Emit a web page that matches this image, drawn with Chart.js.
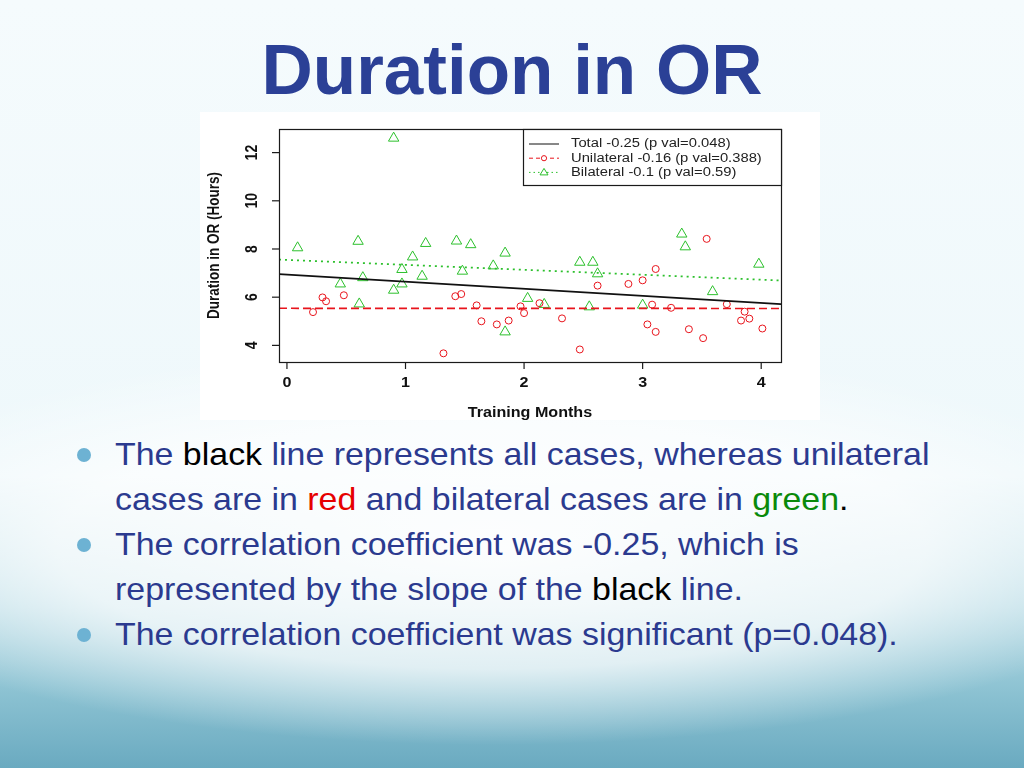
<!DOCTYPE html>
<html lang="en">
<head>
<meta charset="utf-8">
<title>Duration in OR</title>
<script src="https://cdn.jsdelivr.net/npm/chart.js@4.4.1/dist/chart.umd.min.js"></script>
<style>
    html, body {
        margin: 0;
        padding: 0;
    }
    body {
        width: 1024px;
        height: 768px;
        position: relative;
        overflow: hidden;
        font-family: "Liberation Sans", Arial, sans-serif;
        background:
            radial-gradient(ellipse 700px 200px at 48% 545px, rgba(255, 255, 255, 0.95) 0%, rgba(255, 255, 255, 0.7) 62%, rgba(255, 255, 255, 0) 100%),
            linear-gradient(to bottom, #f5fbfd 0%, #eef8fb 62%, #b9dce6 79%, #8cc2d2 90%, #6aaac0 100%);
    }
    h1 {
        position: absolute;
        top: 34px;
        left: 0;
        width: 1024px;
        margin: 0;
        text-align: center;
        font-size: 71px;
        line-height: 71px;
        font-weight: bold;
        color: #2b4096;
    }
    #caja-grafico {
        position: absolute;
        left: 200px;
        top: 112px;
        width: 620px;
        height: 308px;
        background: #ffffff;
    }
    .item {
        position: absolute;
        left: 0;
        width: 1024px;
        height: 90px;
    }
    .punto {
        position: absolute;
        left: 77px;
        top: 16px;
        width: 14px;
        height: 14px;
        border-radius: 50%;
        background: #6db2d3;
    }
    .item p {
        position: absolute;
        left: 115px;
        top: 0;
        margin: 0;
        white-space: nowrap;
        font-size: 32px;
        line-height: 45px;
        color: #2b3a8f;
        transform: scaleX(1.06);
        transform-origin: left top;
    }
    .negro { color: #000000; }
    .rojo { color: #e60000; }
    .verde { color: #0a8a0a; }
</style>
</head>
<body>
<h1>Duration in OR</h1>

<div id="caja-grafico">
    <canvas id="grafico" width="620" height="308"></canvas>
</div>

<div class="item" style="top:432px">
    <span class="punto"></span>
    <p>The <span class="negro">black</span> line represents all cases, whereas unilateral<br>cases are in <span class="rojo">red</span> and bilateral cases are in <span class="verde">green</span><span class="negro">.</span></p>
</div>
<div class="item" style="top:522px">
    <span class="punto"></span>
    <p>The correlation coefficient was -0.25, which is<br>represented by the slope of the <span class="negro">black</span> line.</p>
</div>
<div class="item" style="top:612px">
    <span class="punto"></span>
    <p>The correlation coefficient was significant (p=0.048).</p>
</div>

<script>
// Casos unilaterales (circulos rojos): mes de entrenamiento y horas en quirofano
const mesesUnilateral = [0.22, 0.30, 0.33, 0.48, 1.32, 1.42, 1.47, 1.60, 1.64, 1.77, 1.87, 1.97,
    2.00, 2.13, 2.32, 2.47, 2.62, 2.88, 3.00, 3.11, 3.08, 3.04, 3.11, 3.24, 3.39, 3.51, 3.54, 3.71,
    3.83, 3.86, 3.90, 4.01];
const horasUnilateral = [5.38, 5.99, 5.83, 6.08, 3.67, 6.04, 6.13, 5.66, 5.00, 4.87, 5.03, 5.62,
    5.34, 5.75, 5.12, 3.83, 6.48, 6.55, 6.70, 7.17, 5.69, 4.87, 4.56, 5.56, 4.67, 4.30, 8.42, 5.71,
    5.03, 5.40, 5.11, 4.70];

// Casos bilaterales (triangulos verdes)
const mesesBilateral = [0.09, 0.90, 0.60, 0.64, 0.45, 0.61, 0.90, 0.97, 0.97, 1.06, 1.14, 1.17,
    1.43, 1.55, 1.48, 1.74, 1.84, 1.84, 2.03, 2.17, 2.47, 2.58, 2.62, 2.55, 3.00, 3.33, 3.36, 3.59,
    3.98];
const horasBilateral = [8.05, 12.60, 8.32, 6.81, 6.55, 5.72, 6.29, 6.55, 7.15, 7.67, 6.87, 8.23,
    8.33, 8.18, 7.08, 7.30, 7.83, 4.56, 5.95, 5.70, 7.45, 7.45, 6.97, 5.60, 5.67, 8.62, 8.09, 6.23,
    7.37];

const mesesRecta = [-0.067, 4.167];
const rectaTotal = [6.96, 5.71];
const rectaUnilateral = [5.54, 5.53];
const rectaBilateral = [7.56, 6.69];

// Etiquetas de los ejes
const ticksMeses = [0, 1, 2, 3, 4];
const ticksHoras = [4, 6, 8, 10, 12];

const etiquetas = {
    total: "Total -0.25 (p val=0.048)",
    unilateral: "Unilateral -0.16 (p val=0.388)",
    bilateral: "Bilateral -0.1 (p val=0.59)",
};

const rojo = "#e8141c";
const verde = "#2cc02c";

// Une dos arreglos en puntos {x, y}
function armarPuntos(xs, ys) {
    return xs.map((x, i) => ({ x: x, y: ys[i] }));
}

// Escribe texto con un estiramiento horizontal como en la imagen original
function escribir(ctx, texto, px, py, estirar, vertical) {
    ctx.save();
    ctx.translate(px, py);
    if (vertical) {
        ctx.rotate(-Math.PI / 2);
        ctx.scale(1, estirar);
    } else {
        ctx.scale(estirar, 1);
    }
    ctx.fillText(texto, 0, 0);
    ctx.restore();
}

function linea(ctx, x1, y1, x2, y2) {
    ctx.beginPath();
    ctx.moveTo(x1, y1);
    ctx.lineTo(x2, y2);
    ctx.stroke();
}

// Plugin para dibujar caja, ejes y leyenda al estilo de R
const ejesR = {
    id: "ejesR",
    afterDraw(chart) {
        const ctx = chart.ctx;
        const a = chart.chartArea;
        const x = chart.scales.x;
        const y = chart.scales.y;

        ctx.save();
        ctx.strokeStyle = "#1a1a1a";
        ctx.lineWidth = 1.2;
        ctx.setLineDash([]);
        ctx.strokeRect(a.left + 0.5, a.top + 0.5, a.right - a.left, a.bottom - a.top);

        ctx.fillStyle = "#111111";
        ctx.textAlign = "center";
        ctx.textBaseline = "middle";

        // Eje X
        ctx.font = "bold 14px 'Liberation Sans', Arial, sans-serif";
        for (let v of ticksMeses) {
            const px = x.getPixelForValue(v);
            linea(ctx, px, a.bottom, px, a.bottom + 7);
            escribir(ctx, String(v), px, a.bottom + 21, 1.15, false);
        }

        // Eje Y (etiquetas giradas)
        for (let v of ticksHoras) {
            const py = y.getPixelForValue(v);
            linea(ctx, a.left, py, a.left - 7, py);
            escribir(ctx, String(v), a.left - 27, py, 1.2, true);
        }

        // Titulos de los ejes
        ctx.font = "bold 14px 'Liberation Sans', Arial, sans-serif";
        escribir(ctx, "Training Months", (a.left + a.right) / 2, a.bottom + 51, 1.15, false);
        ctx.font = "bold 13.5px 'Liberation Sans', Arial, sans-serif";
        escribir(ctx, "Duration in OR (Hours)", 15, (a.top + a.bottom) / 2, 1.2, true);

        // Leyenda
        const ancho = 258;
        const alto = 56;
        const izq = a.right - ancho;
        const arriba = a.top;
        ctx.fillStyle = "#ffffff";
        ctx.fillRect(izq, arriba, ancho, alto);
        ctx.strokeStyle = "#1a1a1a";
        ctx.lineWidth = 1.2;
        ctx.strokeRect(izq + 0.5, arriba + 0.5, ancho, alto);

        const filas = [
            { texto: etiquetas.total, color: "#111111", guion: [], simbolo: null },
            { texto: etiquetas.unilateral, color: rojo, guion: [4, 3], simbolo: "circulo" },
            { texto: etiquetas.bilateral, color: verde, guion: [1.5, 3], simbolo: "triangulo" },
        ];
        ctx.font = "12px 'Liberation Sans', Arial, sans-serif";
        ctx.textAlign = "left";
        filas.forEach((fila, i) => {
            const fy = arriba + 15 + i * 14.2;
            ctx.strokeStyle = fila.color;
            ctx.lineWidth = 1;
            ctx.setLineDash(fila.guion);
            linea(ctx, izq + 6, fy, izq + 36, fy);
            ctx.setLineDash([]);
            if (fila.simbolo === "circulo") {
                ctx.beginPath();
                ctx.arc(izq + 21, fy, 2.6, 0, Math.PI * 2);
                ctx.fillStyle = "#ffffff";
                ctx.fill();
                ctx.stroke();
            }
            if (fila.simbolo === "triangulo") {
                ctx.beginPath();
                ctx.moveTo(izq + 21, fy - 4);
                ctx.lineTo(izq + 25, fy + 2.5);
                ctx.lineTo(izq + 17, fy + 2.5);
                ctx.closePath();
                ctx.fillStyle = "#ffffff";
                ctx.fill();
                ctx.stroke();
            }
            ctx.fillStyle = "#222222";
            escribir(ctx, fila.texto, izq + 48, fy, 1.23, false);
        });

        ctx.restore();
    }
};

const datasets = [
    {
        label: etiquetas.total,
        data: armarPuntos(mesesRecta, rectaTotal),
        showLine: true,
        borderColor: "#111111",
        borderWidth: 1.7,
        pointRadius: 0,
    },
    {
        label: etiquetas.unilateral,
        data: armarPuntos(mesesRecta, rectaUnilateral),
        showLine: true,
        borderColor: rojo,
        borderWidth: 1.7,
        borderDash: [8, 4],
        pointRadius: 0,
    },
    {
        label: etiquetas.bilateral,
        data: armarPuntos(mesesRecta, rectaBilateral),
        showLine: true,
        borderColor: verde,
        borderWidth: 1.7,
        borderDash: [2, 4],
        pointRadius: 0,
    },
    {
        label: "Unilateral",
        data: armarPuntos(mesesUnilateral, horasUnilateral),
        pointStyle: "circle",
        pointRadius: 3.5,
        pointBorderWidth: 1,
        pointBorderColor: rojo,
        pointBackgroundColor: "rgba(0,0,0,0)",
    },
    {
        label: "Bilateral",
        data: armarPuntos(mesesBilateral, horasBilateral),
        pointStyle: "triangle",
        pointRadius: 6,
        pointBorderWidth: 1,
        pointBorderColor: verde,
        pointBackgroundColor: "rgba(0,0,0,0)",
    },
];

const config = {
    type: "scatter",
    data: { datasets },
    options: {
        responsive: false,
        animation: false,
        devicePixelRatio: 1,
        layout: {
            padding: { left: 79, top: 17, right: 39, bottom: 58 },
        },
        scales: {
            x: { type: "linear", min: -0.067, max: 4.167, display: false },
            y: { type: "linear", min: 3.31, max: 12.98, display: false },
        },
        plugins: {
            legend: { display: false },
            tooltip: { enabled: false },
        },
    },
    plugins: [ejesR],
};

const grafico = new Chart(document.getElementById("grafico"), config);
</script>
</body>
</html>
